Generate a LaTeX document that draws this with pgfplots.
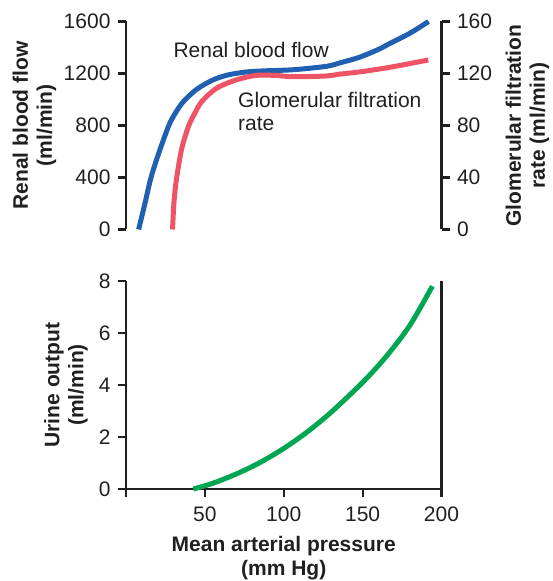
\documentclass[border=0pt]{standalone}
\usepackage{fontspec}
\setmainfont{Liberation Sans}
\usepackage{pgfplots}
\pgfplotsset{compat=1.18}

\definecolor{rbf}{RGB}{33,96,176}
\definecolor{gfr}{RGB}{239,84,102}
\definecolor{uo}{RGB}{0,166,81}
\definecolor{ink}{RGB}{35,31,32}

\pgfplotsset{
  panel/.style={
    width=315.5pt, height=208pt, scale only axis,
    xmin=0, xmax=200, enlargelimits=false, clip=false,
    axis line style={ink, line width=2.2pt},
    tick style={ink, line width=2.2pt},
    major tick length=8pt, tick align=outside,
    /pgf/number format/assume math mode=true,
    /pgf/number format/1000 sep={},
    ticklabel style={font=\fontsize{21}{24}\selectfont, text=ink},
    label style={font=\bfseries\fontsize{21}{24}\selectfont, text=ink, align=center},
  },
}

\begin{document}
\begin{tikzpicture}
\useasboundingbox (-126pt,-92pt) rectangle (426pt,489pt);

% top panel: renal blood flow (left axis)
\begin{axis}[panel, at={(0pt,259.5pt)}, anchor=south west,
  axis x line=none, axis y line*=left,
  ymin=0, ymax=1600, ytick={0,400,...,1600},
  yticklabel style={xshift=-4pt},
  ylabel={Renal blood flow\\(ml/min)},
  ylabel style={at={(axis description cs:-0.29,0.5)}, anchor=center}]
\addplot[rbf, line width=5pt, smooth, no marks] coordinates {
  (8,0) (12,200) (15.6,388) (20,560) (26.8,790) (31,890) (36.4,984)
  (45,1080) (55.4,1152) (65,1190) (76.5,1212) (87,1220) (106,1229)
  (127,1255) (136,1283) (148,1325) (160,1385) (167.4,1432) (180,1510) (191.8,1600)
};
\node[anchor=base west, inner sep=0pt, font=\fontsize{21}{24}\selectfont, text=ink]
  at (axis cs:30,1320) {Renal blood flow};
\node[anchor=base west, inner sep=0pt, font=\fontsize{21}{24}\selectfont, text=ink]
  at (axis cs:71,935) {Glomerular filtration};
\node[anchor=base west, inner sep=0pt, font=\fontsize{21}{24}\selectfont, text=ink]
  at (axis cs:71,760) {rate};
\end{axis}

% top panel: glomerular filtration rate (right axis)
\begin{axis}[panel, at={(0pt,259.5pt)}, anchor=south west,
  axis x line=none, axis y line*=right,
  ymin=0, ymax=160, ytick={0,40,...,160},
  yticklabel style={xshift=4pt},
  ylabel={Glomerular filtration\\rate (ml/min)},
  ylabel style={at={(axis description cs:1.272,0.5)}, anchor=center}]
\addplot[gfr, line width=5pt, smooth, no marks] coordinates {
  (29.5,0) (30.4,20.7) (32,38.8) (35.3,62) (39.5,79) (43,88) (48,98.4)
  (57.5,108.7) (70.2,115.2) (82.9,118.6) (95,118.5) (106,117.5)
  (127,118.1) (136,119.6) (148,121.2) (167.4,124.8) (191.6,130.4)
};
\end{axis}

% bottom panel: urine output
\begin{axis}[panel, at={(0pt,0pt)}, anchor=south west,
  axis x line*=bottom, axis y line*=left,
  ymin=0, ymax=8, ytick={0,2,...,8},
  xtick={0,50,...,200}, xticklabels={,50,100,150,200},
  yticklabel style={xshift=-4pt},
  xticklabel style={yshift=-6pt},
  xlabel={Mean arterial pressure\\(mm Hg)},
  xlabel style={at={(axis description cs:0.5,-0.33)}, anchor=center},
  ylabel={Urine output\\(ml/min)},
  ylabel style={at={(axis description cs:-0.19,0.5)}, anchor=center}]
\draw[ink, line width=2.2pt] (rel axis cs:1,0) -- (rel axis cs:1,1);
\addplot[uo, line width=5pt, smooth, no marks] coordinates {
  (42.7,0) (55,0.22) (70,0.58) (85,1.02) (100,1.56) (115,2.2)
  (130,2.95) (150,4.1) (165,5.1) (180,6.3) (194.2,7.8)
};
\end{axis}
\end{tikzpicture}
\end{document}
